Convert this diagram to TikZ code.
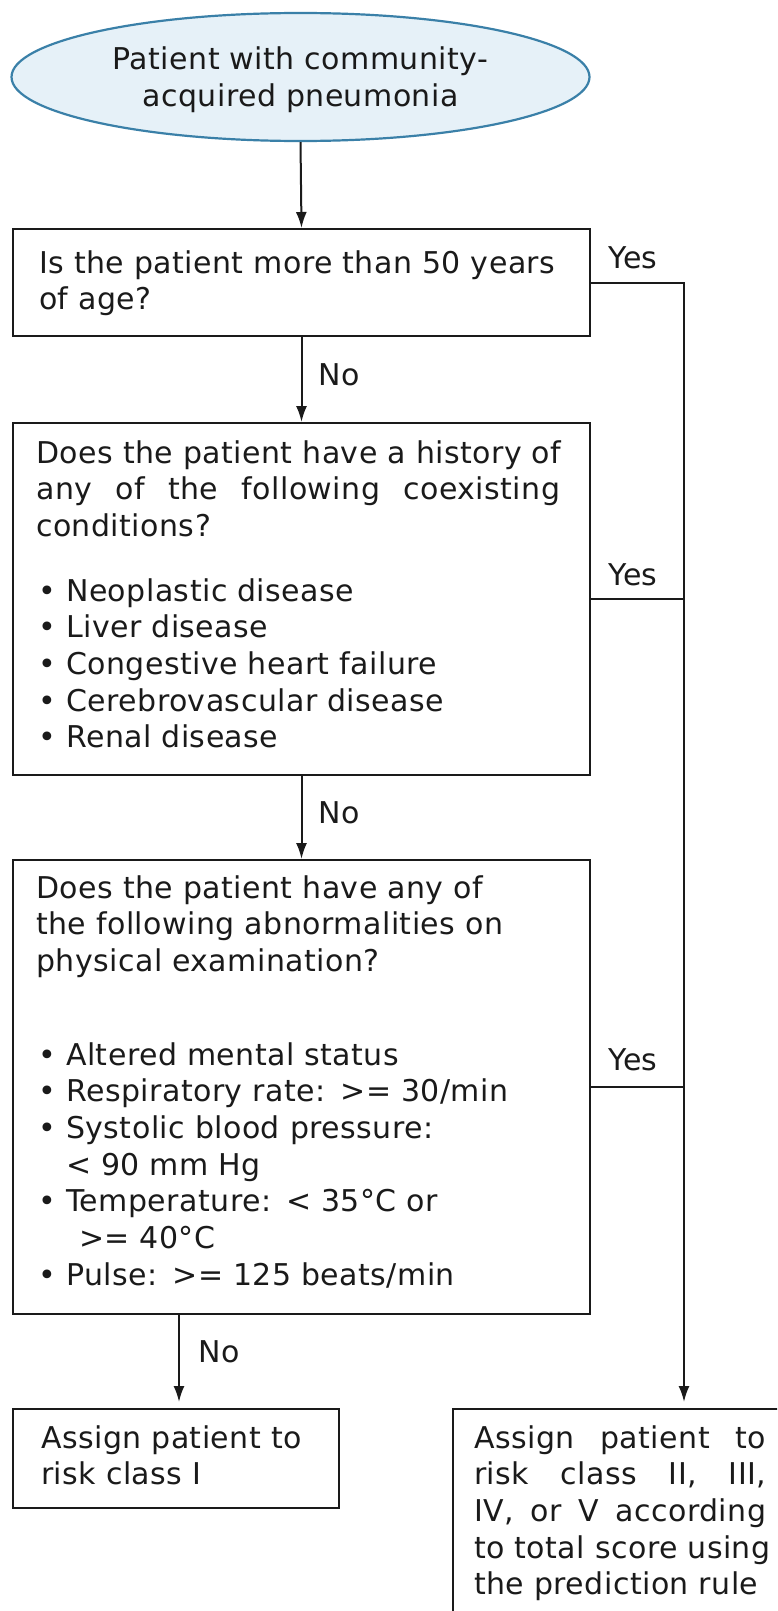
\documentclass[tikz,border=0pt]{standalone}
\usepackage{fontspec}
\setmainfont[LetterSpace=1.5]{DejaVu Sans}
\usetikzlibrary{arrows.meta,shapes.geometric,calc}
\definecolor{ovalfill}{HTML}{E6F1F8}
\definecolor{ovaldraw}{HTML}{3A80A8}
\definecolor{ink}{HTML}{1A1A1A}
\newcommand\flowfont{\fontsize{30}{36.7}\selectfont}
\newcommand\itm[1]{\makebox[30pt][l]{\hspace{2pt}•}#1}
\newcommand\spread[2]{\makebox[#1][l]{#2}}

\begin{document}
\begin{tikzpicture}[x=1pt,y=-1pt,
  box/.style={draw=ink, line width=2pt, anchor=north west, inner sep=0pt},
  txt/.style={anchor=base west, inner sep=0pt, align=left, font=\flowfont, text=ink},
  lbl/.style={anchor=base west, inner sep=0pt, font=\flowfont, text=ink},
  arr/.style={draw=ink, line width=2pt, -{Latex[length=16pt,width=11pt]}},
  link/.style={draw=ink, line width=2pt},
]
\useasboundingbox (0,0) rectangle (777,1611);
\clip (0,0) rectangle (777,1611);

% start oval and its caption
\node[ellipse, draw=ovaldraw, fill=ovalfill, line width=2.2pt,
      minimum width=578pt, minimum height=128pt, inner sep=0pt] (start) at (300.5,77) {};
\node[anchor=base, inner sep=0pt, text width=570pt, align=center,
      font=\flowfont, text=ink] (startt) at (300.5,69.5)
      {Patient with community-\\acquired pneumonia};

% question boxes
\node[box, minimum width=577pt, minimum height=107pt] (q1) at (12,228) {};
\node[box, minimum width=577pt, minimum height=352pt] (q2) at (12,422) {};
\node[box, minimum width=577pt, minimum height=454pt] (q3) at (12,859) {};

% result boxes
\node[box, minimum width=326pt, minimum height=99pt] (r1) at (12,1408) {};
\node[box, minimum width=462pt, minimum height=300pt] (r2) at (452,1408) {};

% box texts
\node[txt, text width=530pt] (q1t) at (39,273)
  {Is the patient more than 50 years\\of age?};
\node[txt, text width=530pt] (q2t) at (36,463)
  {Does the patient have a history of\\
   \spread{524pt}{any \hfill of \hfill the \hfill following \hfill coexisting}\\
   conditions?\\[28pt]
   \itm{Neoplastic disease}\\
   \itm{Liver disease}\\
   \itm{Congestive heart failure}\\
   \itm{Cerebrovascular disease}\\
   \itm{Renal disease}};
\node[txt, text width=530pt] (q3t) at (36,898)
  {Does the patient have any of\\
   the following abnormalities on\\
   physical examination?\\[57pt]
   \itm{Altered mental status}\\
   \itm{Respiratory rate: >= 30/min}\\
   \itm{Systolic blood pressure:}\\
   \hspace*{30pt}< 90 mm Hg\\
   \itm{Temperature: < 35°C or}\\
   \hspace*{43pt}>= 40°C\\
   \itm{Pulse: >= 125 beats/min}};
\node[txt, text width=290pt] (r1t) at (41,1448)
  {Assign patient to\\risk class I};
\node[txt, text width=300pt] (r2t) at (474,1448)
  {\spread{292pt}{Assign \hfill patient \hfill to}\\
   \spread{292pt}{risk \hfill class \hfill II, \hfill III,}\\
   \spread{292pt}{IV, \hfill or \hfill V \hfill according}\\
   to total score using\\
   the prediction rule};

% "No" path
\draw[arr] (start.south) -- (q1.north);
\draw[arr] (q1.south) -- (q2.north);
\draw[arr] (q2.south) -- (q3.north);
\coordinate (r1in) at ($(r1.north)+(3,0)$);
\draw[arr, shorten >=6pt] (r1in |- q3.south) -- (r1in);

% "Yes" rail
\draw[arr, shorten >=6pt] (q1.east) -| (r2.north);
\draw[link] (q2.east) -- (q2.east -| r2.north);
\draw[link] (q3.east) -- (q3.east -| r2.north);

% branch labels
\node[lbl] (y1) at (608,268) {Yes};
\node[lbl] (y2) at (608,585) {Yes};
\node[lbl] (y3) at (608,1070) {Yes};
\node[lbl] (n1) at (318,385) {No};
\node[lbl] (n2) at (318,823) {No};
\node[lbl] (n3) at (198,1362) {No};
\end{tikzpicture}
\end{document}
